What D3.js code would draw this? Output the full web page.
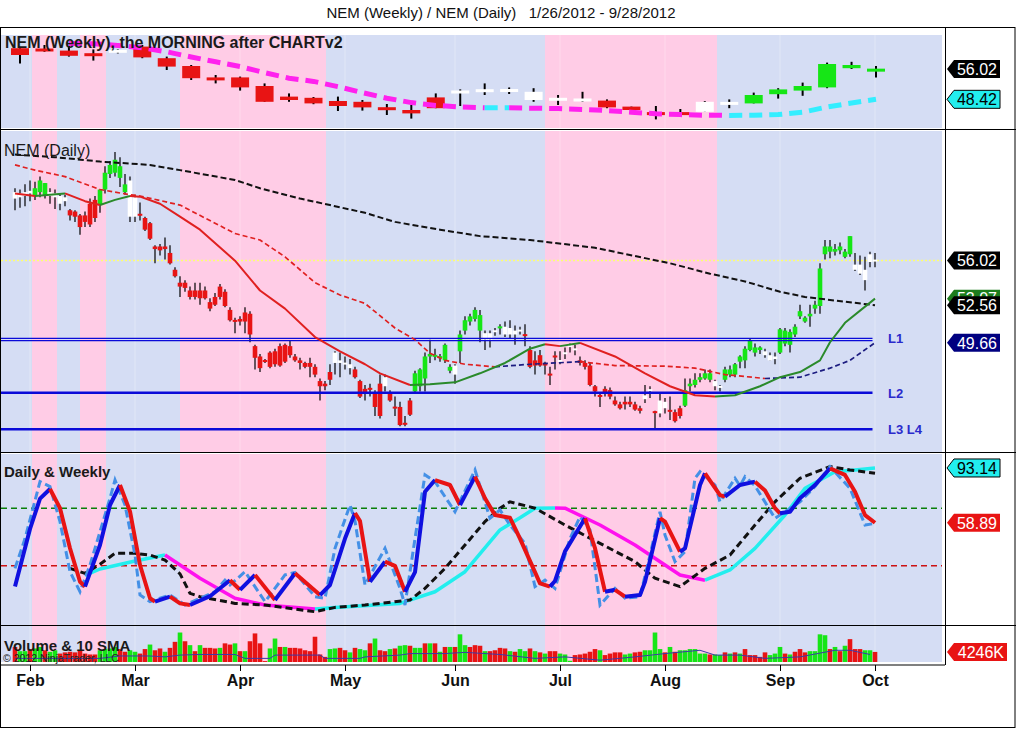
<!DOCTYPE html>
<html>
<head>
<meta charset="utf-8">
<script src="https://cdn.jsdelivr.net/npm/d3@7"></script>
<style>
body { margin: 0; background: #fff; }
svg { display: block; font-family: "Liberation Sans", Arial, sans-serif; }
</style>
</head>
<body>
<div id="chart"></div>
<script>
// ---- daily bars (bar index 0 = 1/26/2012) ----
var dOpen = [60.8,60.9,61.0,61.2,61.0,61.3,61.0,61.0,60.9,60.4,
  60.6,59.9,59.8,59.5,59.5,60.4,60.7,60.3,61.5,62.7,
  62.8,62.4,61.3,62.2,60.9,59.6,59.3,58.9,57.1,57.1,
  57.1,56.6,55.3,54.3,54.3,53.7,53.7,53.7,53.7,52.8,
  53.2,54.0,53.6,52.2,51.4,51.5,52.0,51.9,49.4,48.6,
  48.3,48.9,49.0,49.4,49.5,49.4,48.6,48.3,48.1,48.1,
  47.8,46.7,46.5,47.4,48.1,48.3,48.1,47.7,47.6,46.7,
  46.1,46.1,45.8,46.5,46.3,45.8,44.7,44.7,43.4,45.2,
  45.9,46.3,46.9,48.6,48.6,48.5,48.3,47.5,47.2,49.0,
  50.6,51.3,51.5,50.6,49.9,49.9,50.5,50.8,50.3,50.3,
  50.3,50.6,50.3,49.1,48.3,48.7,48.1,47.2,48.6,48.2,
  48.8,49.4,49.1,48.3,48.1,47.9,46.3,45.6,46.1,46.0,
  45.2,44.9,45.1,45.1,44.9,44.6,45.3,46.0,44.3,44.2,
  44.6,44.4,44.3,44.6,44.8,46.3,46.4,46.8,46.9,46.8,
  46.3,46.2,46.8,47.2,47.2,48.2,48.3,49.1,48.9,49.1,
  48.7,48.3,48.4,48.9,49.6,49.5,50.3,51.7,51.3,51.7,
  52.3,52.5,56.5,56.7,56.7,56.8,56.3,56.5,55.3,55.0,
  54.5,55.9,56.0];
var dHigh = [61.6,61.5,61.9,62.2,62.1,62.5,62.0,61.6,61.5,61.2,
  61.1,60.0,59.9,59.6,59.8,60.8,61.0,61.5,63.3,63.7,
  64.4,64.0,62.7,62.5,61.1,60.5,59.4,59.0,57.2,57.3,
  57.8,57.2,55.5,54.8,54.5,54.0,54.3,54.3,54.0,53.1,
  53.5,54.2,53.8,52.4,51.6,51.7,52.4,52.1,49.5,48.8,
  48.4,49.0,49.2,49.6,49.6,49.8,48.8,48.5,48.2,48.5,
  48.0,46.9,46.7,48.0,49.0,48.9,48.6,48.4,47.8,46.8,
  46.4,46.5,46.0,47.2,47.2,46.0,45.5,45.1,44.0,45.4,
  47.5,47.7,48.9,49.9,49.2,48.8,49.6,48.0,48.0,50.6,
  51.7,51.9,52.4,52.2,50.6,50.6,50.8,51.1,51.3,51.4,
  51.0,50.9,51.1,49.4,49.0,49.1,48.2,47.8,49.0,49.0,
  49.3,49.6,49.5,48.6,48.3,48.1,46.4,45.8,46.3,46.2,
  45.5,45.1,45.5,45.5,45.1,44.8,46.4,46.3,44.4,45.8,
  45.4,45.5,44.5,44.8,46.9,46.9,47.3,47.3,47.6,47.6,
  46.8,46.4,47.8,47.9,48.1,48.7,49.4,50.0,49.6,49.4,
  49.2,48.9,48.9,50.8,50.8,50.7,51.1,52.6,51.7,52.6,
  52.9,55.8,57.6,57.6,57.3,57.4,56.9,57.9,56.6,56.4,
  56.3,56.7,56.6];
var dLow = [59.9,60.1,60.2,60.6,60.7,60.9,60.8,60.4,60.0,59.9,
  60.2,59.1,59.0,58.0,58.6,58.6,59.0,59.7,61.2,62.4,
  62.5,61.7,61.1,59.0,59.0,59.1,58.3,57.6,55.8,56.4,
  56.1,55.7,54.7,53.2,53.6,53.0,53.0,52.6,53.0,52.1,
  52.5,53.0,52.4,51.3,50.4,51.0,50.4,49.7,47.6,47.4,
  48.1,47.7,47.8,47.8,48.1,48.5,48.2,47.6,47.7,47.0,
  47.0,45.2,46.0,46.4,47.2,47.0,47.6,47.2,46.9,45.4,
  45.2,45.5,44.0,43.8,45.9,45.1,44.0,43.2,43.2,44.0,
  45.7,45.9,45.9,48.1,48.3,48.2,48.1,47.3,46.5,48.1,
  50.3,51.0,51.3,49.7,49.1,49.3,50.2,50.3,50.1,50.0,
  49.5,50.3,49.4,47.7,47.2,47.8,47.2,46.4,47.6,48.0,
  48.4,48.9,48.7,47.9,47.6,46.3,45.5,44.7,45.5,45.3,
  44.8,44.5,44.5,44.7,44.4,44.2,45.0,45.4,43.0,43.9,
  44.2,43.7,43.5,43.8,44.7,45.9,46.2,46.6,46.8,46.6,
  46.0,45.9,46.6,47.0,47.0,47.7,47.7,49.0,48.6,48.8,
  48.5,48.3,48.0,48.8,49.4,48.9,50.1,51.5,51.2,50.9,
  51.9,51.9,56.1,56.2,56.4,56.5,56.2,56.3,55.2,54.9,
  53.7,55.5,55.5];
var dClose = [61.3,61.2,61.3,61.4,61.6,62.2,62.0,61.3,61.2,61.0,
  60.9,59.5,59.4,58.6,59.0,58.8,59.3,61.5,62.8,63.4,
  63.8,63.3,61.9,59.4,59.4,59.5,58.4,57.7,56.9,56.8,
  56.9,55.8,54.8,54.0,53.9,53.2,53.2,53.1,53.1,52.3,
  52.6,53.2,52.5,51.4,51.3,51.3,51.3,50.3,48.5,47.7,
  48.2,47.8,48.0,47.9,48.2,48.7,48.3,48.1,47.8,47.8,
  47.2,46.3,46.3,46.8,48.9,48.1,48.0,48.0,47.0,45.5,
  45.8,46.1,44.7,44.0,47.0,45.2,44.6,43.3,43.4,44.1,
  47.3,47.6,48.6,48.8,48.7,48.6,49.5,47.8,47.9,50.3,
  51.4,51.7,52.2,51.8,50.4,50.4,50.6,50.9,50.9,50.8,
  50.6,50.6,50.2,47.8,47.9,47.9,47.9,47.2,48.6,48.3,
  48.9,49.4,49.2,48.1,47.8,46.4,45.9,45.5,45.8,45.5,
  44.9,44.6,44.9,44.9,44.5,44.4,45.6,46.0,44.3,45.2,
  45.1,44.4,43.6,44.0,46.0,46.5,46.8,47.0,47.3,47.3,
  46.7,46.3,47.6,47.6,48.0,48.6,49.2,49.8,49.3,49.3,
  49.0,48.7,48.6,50.7,50.6,50.5,50.9,52.1,51.6,51.9,
  52.6,55.4,57.1,57.1,56.9,57.1,56.7,57.9,55.7,55.7,
  55.3,56.5,56.02];
// bar paint: w = white, g = green, r = red
var dColor = "wwwwgggwww" + "wrrrrrrggg" + "gggwwrrrrr" + "rrrrrrrrrr" +
  "rrrrrrrrrr" + "rrrrrrrrrr" + "rrrrwwwwrr" + "rrrrwrrrrr" +
  "ggggggggwg" + "ggggwwwgww" + "wwrrrrrrrw" + "wwwrrrrrrr" +
  "rrrrrrwwrw" + "wrrrgggggg" + "wwgggggggg" + "wwwggggggg" +
  "ggggggggww" + "www";

// volume in millions
var vol = [5.9,4.5,4.5,5.2,5.4,5.9,4.8,4.3,4.8,3.7,
  4.1,4.3,4.1,4.8,3.7,3.4,3.4,4.8,5.2,5.4,
  5.9,5.2,4.3,4.8,4.3,3.7,5.2,6.7,4.8,5.4,
  4.3,5.6,7.6,10.7,7.8,6.5,4.5,6.5,5.6,5.6,
  5.4,5.6,7.1,6.7,7.1,4.5,4.5,7.8,10.4,7.1,
  1.2,5.4,8.7,5.9,5.9,5.6,5.6,5.4,4.8,4.5,
  9.3,3.4,2.6,5.2,5.4,5.6,4.8,4.1,5.6,5.2,
  4.8,7.1,8.7,4.8,4.5,5.2,5.4,6.3,6.5,6.3,
  5.6,5.6,7.1,7.1,7.1,4.3,5.9,5.9,5.9,10.1,
  6.5,5.9,6.5,6.3,4.5,4.5,4.8,5.6,5.4,4.5,
  4.3,5.2,4.5,5.4,4.5,4.1,3.7,4.5,4.5,3.7,
  3.4,1.3,3.2,3.4,3.7,4.3,5.2,4.8,3.2,3.7,
  4.1,4.1,3.4,3.7,4.1,4.3,4.8,4.8,10.7,5.2,
  4.1,5.9,4.3,4.8,4.8,5.2,5.2,3.7,3.7,3.4,
  3.4,3.2,4.1,3.7,4.1,3.7,5.2,3.2,3.2,2.6,
  4.1,3.2,3.7,5.9,3.7,3.4,4.3,5.2,4.1,4.5,
  4.5,10.1,9.8,5.2,5.9,4.5,6.3,8.5,5.2,5.2,
  4.8,4.8,4.246];
var volColor = "rggrggrggr" + "rrrrrrrggg" + "grrggrrgrr" + "grrgrgrgrr" +
  "rgrrgrgrrr" + "rggrgrrrrr" + "rrrggrrgrg" + "grgrrgrggr" +
  "ggrgrgrgrg" + "grrrgrrrrg" + "rggrgrgrrg" + "ggrrrrrgrr" +
  "rrggrrgggg" + "rgrggggggr" + "ggrgrgrrrr" + "rgggrgrrrg" +
  "gggrgrgrrr" + "ggr";
var volSma = [[0,2.1],[17,2.1],[21,2.9],[27,2.9],[30,2.6],[33,3.2],[37,3.4],[44,3.4],[46,2.1],[51,2.1],
  [52,3.2],[61,3.2],[62,2.1],[69,2.1],[70,2.6],[77,3.2],[79,3.7],[86,3.7],[90,4.1],[97,3.4],
  [104,2.1],[110,2.6],[117,1.5],[124,2.6],[130,3.7],[137,4.8],[140,3.2],[145,3.2],[150,2.1],
  [157,2.6],[164,4.8],[167,4.8],[171,3.4]];

// ---- daily moving averages [bar index, price] ----
var maLong = [[0,64.2],[8,64.0],[17,63.66],[27,63.4],[33,63.0],[44,62.24],[49,61.6],[57,60.8],[63,60.3],
  [70,59.7],[76,59.0],[85,58.4],[93,57.9],[103,57.6],[116,57.0],[126,56.2],[131,55.8],[139,55.0],
  [146,54.4],[153,53.6],[158,53.2],[163,52.97],[172,52.56]];
var maMid = [[0,63.4],[4,63.0],[10,62.5],[17,61.5],[23,61.1],[25,61.0],[33,60.3],[44,58.1],[49,57.6],
  [54,56.3],[60,54.3],[65,53.35],[70,52.7],[76,50.8],[80,49.9],[83,48.85],[86,48.3],[90,48.0],
  [96,47.8],[103,48.0],[108,48.1],[113,48.2],[120,47.9],[130,47.85],[136,47.7],[142,47.2],
  [150,46.9],[157,47.0],[163,47.7],[167,48.3],[172,49.66]];
var maShort = [[0,61.2],[4,61.0],[7,61.1],[10,61.2],[14,60.6],[17,60.3],[20,60.7],[23,61.0],[25,60.95],
  [29,60.4],[33,59.4],[37,58.4],[44,56.0],[49,53.7],[54,52.3],[60,50.1],[65,49.0],[70,48.0],
  [73,47.3],[79,46.4],[83,46.45],[88,46.6],[93,47.3],[98,48.1],[103,49.2],[106,49.55],[109,49.4],
  [113,49.65],[120,48.6],[126,47.3],[131,46.3],[136,45.6],[140,45.5],[144,45.6],[149,46.3],
  [153,47.0],[157,47.4],[161,48.3],[163,49.7],[166,51.2],[172,53.07]];

// support / resistance levels
var levels = [50.0, 49.82, 45.8, 42.97];
var levelLabels = ["L1", "", "L2", "L3 L4"];

// ---- weekly bars ----
var wOpen  = [61.2,60.9,60.6,59.9,60.1,61.6,58.7,56.75,53.8,53.9,51.75,49.1,48.8,48.0,47.8,46.4,45.75,48.9,
  49.9,50.4,50.75,48.25,48.6,48.0,48.1,46.6,44.9,44.9,45.3,47.2,47.4,49.7,50.6,51.4,56.2,55.4];
var wHigh  = [61.5,62.0,61.75,60.9,60.9,62.0,59.1,57.0,54.5,54.1,52.4,49.9,49.0,49.1,48.25,47.25,47.0,49.9,
  50.9,52.4,51.4,51.2,49.5,50.3,48.4,46.6,46.75,46.0,48.0,48.4,50.1,51.2,52.6,57.6,57.8,56.75];
var wLow   = [57.4,60.3,59.1,58.1,59.9,58.7,55.75,53.25,52.4,50.6,47.8,47.8,47.2,45.5,45.6,44.5,43.6,46.2,
  46.75,49.5,49.75,47.8,47.0,47.8,46.2,45.3,43.4,44.1,45.3,46.2,47.4,48.6,49.3,51.2,56.0,53.9];
var wClose = [59.5,60.6,59.3,59.25,60.75,58.9,56.6,53.7,53.25,51.4,47.8,48.25,47.4,46.75,46.4,45.75,44.9,46.2,
  50.6,50.75,50.5,50.3,48.25,48.5,46.4,45.75,44.8,44.8,47.8,47.6,49.5,50.9,51.75,57.25,57.0,56.02];
var wColor = "rrrrwrrrrrrrrrrrrr" + "wwwwwwrrrrwwgggggg";
var wMa = [[2,62.4],[3,62.3],[4,61.9],[5,61.3],[6,60.3],[7,59.0],[8,57.8],[9,56.6],[10,55.1],[11,53.7],
  [12,52.9],[13,51.6],[14,50.1],[15,48.7],[16,47.6],[17,46.9],[18,46.5],[19,46.3],[20,46.3],[21,46.2],
  [22,46.1],[23,45.9],[24,45.6],[25,45.2],[26,44.8],[27,44.6],[28,44.45],[29,44.4],[30,44.45],
  [31,44.6],[32,45.2],[33,46.5],[34,47.5],[35,48.42]];

// ---- oscillator panel [bar index, value] ----
var oscSlow = [[0,19],[3,55],[5,74],[7,80],[9,68],[11,43],[13,22],[14,19],[17,45],[19,70],[21,82.5],
  [23,66],[25,32.5],[27,11.7],[28,9.6],[31,12.7],[33,8.5],[35,7.5],[39,13],[43,23],[45,17],
  [48,26.3],[52,10.6],[56,27.3],[61,13.7],[63,20],[66,49],[68,65],[69,60],[71,22],[74,34.6],
  [76,32],[78,15.8],[80,28],[82,78.3],[84,85.6],[87,82.5],[89,70],[92,87.7],[94,74.2],[96,63.7],
  [99,62],[101,49],[105,21],[107,19],[108,22.5],[110,41],[114,61.7],[116,43],[118,15.8],[120,17],
  [122,12.7],[125,13.7],[126,22],[129,61.7],[130,59.6],[133,40.8],[134,42.9],[137,82.5],[138,89.8],
  [141,76.2],[142,75.2],[145,82.5],[148,84.6],[150,79],[152,68],[153,64.8],[155,65.8],[157,74.2],
  [160,82.5],[163,92.9],[166,88.8],[168,78.3],[170,63.7],[172,58.89]];
var oscFast = [[0,30.4],[2,49],[5,84.6],[7,81.5],[9,59.6],[11,28.3],[13,15.8],[15,32.5],[17,53.3],
  [19,74.2],[20,85.6],[22,70],[24,38.75],[25,13.75],[27,9.6],[29,11.7],[31,13.75],[34,7.5],[37,11.7],
  [40,15.8],[42,23],[43,20],[46,28.3],[50,9.6],[54,26.3],[56,27.9],[60,12.7],[62,11.7],[64,42.9],
  [67,70],[68,60],[70,20],[74,42.9],[77,17.9],[78,7.5],[80,49],[82,88.8],[84,84.6],[88,65.8],
  [92,91.9],[95,61.7],[97,66.9],[99,57.5],[102,46],[104,19],[106,23],[108,17.9],[111,49],[113,62.7],
  [115,54.4],[117,7.5],[120,17.9],[122,11.7],[125,12.7],[127,38.75],[129,65.8],[130,51.25],
  [132,34.6],[134,40.8],[136,86.7],[137,90.8],[140,82.5],[141,72],[144,86.7],[145,82],[146,87.7],
  [148,82],[152,61.7],[154,65.8],[157,72],[160,81.5],[163,94],[167,80.4],[170,57.5],[172,58.5]];
var wkStoch = [[11,30.4],[14,27.3],[17,33],[20,39.8],[24,39.8],[27,38.75],[30,35.6],[33,27],[35,14.8],
  [37,12.7],[44,8.5],[50,7.5],[60,3.3],[64,6],[70,7.5],[79,10.6],[82,17.9],[86,30.4],[90,45],
  [94,59.6],[97,68],[99,72],[104,68],[110,57.5],[117,46],[124,34.6],[128,24.2],[133,19],[138,30.4],
  [143,38.75],[148,57.5],[152,72],[157,86.7],[163,94],[167,91.9],[172,89.8]];
var wkSignal = [[14,26],[17,30],[24,35],[30,38.75],[37,24.2],[44,11.7],[50,7.5],[60,5],[64,6],[77,8.5],
  [84,15.8],[90,28.3],[97,54.4],[101,62],[104,68],[108,68.2],[110,68],[117,57.5],[124,45],[133,26.25],
  [138,23],[143,29.4],[148,42.9],[154,63.75],[158,80.4],[164,90.8],[168,91.9],[172,93.14]];
var oscLevels = [68, 32];

// ---- time axis ----
var monthIdx = [3, 24, 45, 66, 88, 109, 130, 153, 172];
var monthNames = ["Feb", "Mar", "Apr", "May", "Jun", "Jul", "Aug", "Sep", "Oct"];
// weekly shading (pink), in bar index units
var bandStart = [3.4, 13, 33, 106];
var bandEnd = [8.4, 18.2, 62.2, 140.4];

// ================= drawing =================
var W = 1016, H = 729;
var plotL = 1, plotR = 942, axisX = 945;
var FONT = "Liberation Sans, Arial, sans-serif";
var RED = "#e81414", GREEN = "#16e616";
var barFill = { w: "#ffffff", g: GREEN, r: RED };

var panels = {
  week: { top: 35, bottom: 128, atop: 28, abottom: 129 },
  main: { top: 131, bottom: 452, atop: 130, abottom: 452 },
  osc:  { top: 454, bottom: 625, atop: 453, abottom: 625 },
  vol:  { top: 626, bottom: 662, atop: 626, abottom: 665 }
};

var x = d3.scaleLinear().domain([0, 172]).range([15, 875]);
var xw = d3.scaleLinear().domain([0, 35]).range([20, 876]);
var yW = d3.scaleLinear().domain([41.25, 64.5]).range([128, 35]);
var yM = d3.scaleLinear().domain([41.22, 66.1]).range([452, 130]);
var yO = d3.scaleLinear().domain([-5, 101.25]).range([625, 455]);
var yV = d3.scaleLinear().domain([0.9, 13.2]).range([662, 625]);

var svg = d3.select("#chart").append("svg")
    .attr("width", W)
    .attr("height", H)
    .attr("font-family", FONT);

svg.append("rect").attr("width", W).attr("height", H).attr("fill", "#fff");
var defs = svg.append("defs");

// panel backgrounds, shading, faint month grid
Object.keys(panels).forEach(function(k) {
  var p = panels[k];
  svg.append("rect")
      .attr("x", plotL).attr("y", p.top)
      .attr("width", plotR - plotL).attr("height", p.bottom - p.top)
      .attr("fill", "#d5ddf4");
  svg.selectAll(null).data(bandStart).enter().append("rect")
      .attr("x", function(d) { return x(d); })
      .attr("y", p.top)
      .attr("width", function(d, j) { return x(bandEnd[j]) - x(d); })
      .attr("height", p.bottom - p.top)
      .attr("fill", "#ffcce6");
  svg.selectAll(null).data(monthIdx).enter().append("line")
      .attr("x1", function(d) { return x(d); }).attr("x2", function(d) { return x(d); })
      .attr("y1", p.top).attr("y2", p.bottom)
      .attr("stroke", "#fff").attr("stroke-opacity", 0.3);
  defs.append("clipPath").attr("id", "clip-" + k).append("rect")
      .attr("x", plotL).attr("y", p.top).attr("width", plotR - plotL).attr("height", p.bottom - p.top);
  defs.append("clipPath").attr("id", "aclip-" + k).append("rect")
      .attr("x", axisX - 1).attr("y", p.atop).attr("width", W - axisX).attr("height", p.abottom - p.atop);
});

function linePath(xs, ys) {
  return d3.line().x(function(d) { return xs(d[0]); }).y(function(d) { return ys(d[1]); });
}

// split a series into rising / falling runs
function slopeRuns(pts) {
  var runs = [];
  for (var k = 1; k < pts.length; k++) {
    var up = pts[k][1] >= pts[k - 1][1];
    var last = runs[runs.length - 1];
    if (last && last.up === up) last.pts.push(pts[k]);
    else runs.push({ up: up, pts: [pts[k - 1], pts[k]] });
  }
  return runs;
}

function drawRuns(g, pts, xs, ys, upColor, downColor, width, dash) {
  var gen = linePath(xs, ys);
  slopeRuns(pts).forEach(function(r) {
    g.append("path")
        .attr("d", gen(r.pts))
        .attr("fill", "none")
        .attr("stroke", r.up ? upColor : downColor)
        .attr("stroke-width", width)
        .attr("stroke-dasharray", dash || null)
        .attr("stroke-linejoin", "round");
  });
}

// ---------- weekly panel ----------
var gW = svg.append("g").attr("clip-path", "url(#clip-week)");
var wIdx = d3.range(wOpen.length);
gW.selectAll(".wwick").data(wIdx).enter().append("line")
    .attr("class", "wwick")
    .attr("x1", function(i) { return xw(i); }).attr("x2", function(i) { return xw(i); })
    .attr("y1", function(i) { return yW(wHigh[i]); }).attr("y2", function(i) { return yW(wLow[i]); })
    .attr("stroke", "#000").attr("stroke-width", 2);
gW.selectAll(".wbody").data(wIdx).enter().append("rect")
    .attr("class", "wbody")
    .attr("x", function(i) { return xw(i) - 9; })
    .attr("width", 18)
    .attr("y", function(i) {
      var t = yW(Math.max(wOpen[i], wClose[i])), b = yW(Math.min(wOpen[i], wClose[i]));
      return b - t < 3 ? (t + b) / 2 - 1.5 : t;
    })
    .attr("height", function(i) {
      return Math.max(3, Math.abs(yW(wOpen[i]) - yW(wClose[i])));
    })
    .attr("fill", function(i) { return barFill[wColor[i]]; });
drawRuns(gW, wMa, xw, yW, "#33eeff", "#ff22ee", 5, "13,7");

// ---------- main daily panel ----------
var gM = svg.append("g").attr("clip-path", "url(#clip-main)");
var idx = d3.range(dOpen.length);
var lastClose = dClose[dClose.length - 1];

gM.append("line")
    .attr("x1", plotL).attr("x2", plotR)
    .attr("y1", yM(lastClose)).attr("y2", yM(lastClose))
    .attr("stroke", "#ffff70").attr("stroke-width", 1.6).attr("stroke-dasharray", "2,2");

gM.selectAll(".wick").data(idx).enter().append("line")
    .attr("class", "wick")
    .attr("x1", function(i) { return x(i); }).attr("x2", function(i) { return x(i); })
    .attr("y1", function(i) { return yM(dHigh[i]); }).attr("y2", function(i) { return yM(dLow[i]); })
    .attr("stroke", "#000").attr("stroke-width", 1.2);
gM.selectAll(".body").data(idx).enter().append("rect")
    .attr("class", "body")
    .attr("x", function(i) { return x(i) - 2.3; })
    .attr("width", 4.6)
    .attr("y", function(i) {
      var t = yM(Math.max(dOpen[i], dClose[i])), b = yM(Math.min(dOpen[i], dClose[i]));
      return b - t < 2 ? (t + b) / 2 - 1 : t;
    })
    .attr("height", function(i) {
      return Math.max(2, Math.abs(yM(dOpen[i]) - yM(dClose[i])));
    })
    .attr("fill", function(i) { return barFill[dColor[i]]; });

// levels
levels.forEach(function(v, k) {
  gM.append("line")
      .attr("x1", plotL).attr("x2", x(171.5))
      .attr("y1", yM(v)).attr("y2", yM(v))
      .attr("stroke", "#0a0ad8")
      .attr("stroke-width", k < 2 ? 1.3 : 2.5);
  if (levelLabels[k]) {
    svg.append("text")
        .attr("x", 888).attr("y", yM(v) + 5)
        .attr("font-size", 13).attr("font-weight", "bold")
        .attr("fill", "#2a2acc")
        .text(levelLabels[k]);
  }
});

gM.append("path")
    .attr("d", linePath(x, yM)(maLong))
    .attr("fill", "none").attr("stroke", "#111")
    .attr("stroke-width", 2).attr("stroke-dasharray", "6,3");
drawRuns(gM, maMid, x, yM, "#1c1c80", "#e02020", 1.7, "5,3");
drawRuns(gM, maShort, x, yM, "#2a8a2a", "#e02020", 2);

// ---------- oscillator panel ----------
var gO = svg.append("g").attr("clip-path", "url(#clip-osc)");
gO.selectAll(".olev").data(oscLevels).enter().append("line")
    .attr("class", "olev")
    .attr("x1", plotL).attr("x2", plotR)
    .attr("y1", function(d) { return yO(d); }).attr("y2", function(d) { return yO(d); })
    .attr("stroke", function(d, k) { return k === 0 ? "#0a800a" : "#cc1111"; })
    .attr("stroke-width", 1.5).attr("stroke-dasharray", "6,4");
drawRuns(gO, wkSignal, x, yO, "#22eeee", "#ff11ee", 3.5);
gO.append("path")
    .attr("d", linePath(x, yO)(wkStoch))
    .attr("fill", "none").attr("stroke", "#111")
    .attr("stroke-width", 3).attr("stroke-dasharray", "7,4");
gO.append("path")
    .attr("d", linePath(x, yO)(oscFast))
    .attr("fill", "none").attr("stroke", "#4490e6")
    .attr("stroke-width", 3).attr("stroke-dasharray", "8,4");
drawRuns(gO, oscSlow, x, yO, "#1010e0", RED, 4);

// ---------- volume panel ----------
var gV = svg.append("g").attr("clip-path", "url(#clip-vol)");
gV.selectAll(".vbar").data(idx).enter().append("rect")
    .attr("class", "vbar")
    .attr("x", function(i) { return x(i) - 2.3; })
    .attr("width", 4.6)
    .attr("y", function(i) { return yV(vol[i]); })
    .attr("height", function(i) { return yV(yV.domain()[0]) - yV(vol[i]); })
    .attr("fill", function(i) { return volColor[i] === "g" ? GREEN : RED; });
gV.append("path")
    .attr("d", linePath(x, yV)(volSma))
    .attr("fill", "none").attr("stroke", "#3a3aa8").attr("stroke-width", 1);

// ---------- frame & separators ----------
svg.append("rect")
    .attr("x", 0.5).attr("y", 27.5).attr("width", W - 1.5).attr("height", H - 29)
    .attr("fill", "none").attr("stroke", "#000");
[129.5, 452.5, 625.5].forEach(function(yy) {
  svg.append("line").attr("x1", 0).attr("x2", W).attr("y1", yy).attr("y2", yy).attr("stroke", "#000");
});
svg.append("line").attr("x1", 0).attr("x2", axisX).attr("y1", 665).attr("y2", 665).attr("stroke", "#000");
svg.append("line").attr("x1", axisX + 0.5).attr("x2", axisX + 0.5).attr("y1", 27).attr("y2", 665).attr("stroke", "#000");

// ---------- axes ----------
function axisRight(scale, vals, fmt, key) {
  var g = svg.append("g")
      .attr("transform", "translate(" + axisX + ",0)")
      .attr("clip-path", "url(#aclip-" + key + ")")
      .call(d3.axisRight(scale).tickValues(vals).tickSize(5).tickPadding(2).tickFormat(fmt));
  g.select(".domain").remove();
  g.attr("font-size", 16).attr("font-family", FONT);
  g.selectAll("text").attr("fill", "#000");
  g.selectAll("line").attr("stroke", "#000");
}
axisRight(yW, [60], d3.format(".2f"), "week");
axisRight(yM, [45, 55, 60, 65], d3.format(".2f"), "main");
axisRight(yO, [0, 50, 100], d3.format("d"), "osc");
axisRight(yV, [yV.domain()[0]], function() { return "0"; }, "vol");

var gx = svg.append("g")
    .attr("transform", "translate(0,665)")
    .call(d3.axisBottom(x).tickValues(monthIdx).tickSize(6).tickPadding(4)
      .tickFormat(function(d, k) { return monthNames[k]; }));
gx.select(".domain").remove();
gx.attr("font-size", 16).attr("font-family", FONT).attr("font-weight", "bold");
gx.selectAll("text").attr("fill", "#111");
gx.selectAll("line").attr("stroke", "#000");

// ---------- price tags ----------
function tag(v, scale, label, fill, textColor, right, outline) {
  var y = scale(v);
  var l = axisX + 2;
  svg.append("path")
      .attr("d", "M" + l + "," + y + "L" + (l + 7) + "," + (y - 9) + "L" + right + "," + (y - 9) +
        "L" + right + "," + (y + 9) + "L" + (l + 7) + "," + (y + 9) + "Z")
      .attr("fill", fill)
      .attr("stroke", outline ? "#000" : "none").attr("stroke-width", 1);
  svg.append("text")
      .attr("x", right - 3).attr("y", y).attr("dy", "0.36em")
      .attr("text-anchor", "end").attr("font-size", 16)
      .attr("fill", textColor)
      .text(label);
}
var f2 = d3.format(".2f");
tag(wClose[wClose.length - 1], yW, f2(wClose[wClose.length - 1]), "#000", "#fff", 1000);
tag(wMa[wMa.length - 1][1], yW, f2(wMa[wMa.length - 1][1]), "#22eeee", "#000", 1000, true);
tag(lastClose, yM, f2(lastClose), "#000", "#fff", 1000);
tag(maShort[maShort.length - 1][1], yM, f2(maShort[maShort.length - 1][1]), "#1d7d1d", "#fff", 1000);
tag(maLong[maLong.length - 1][1], yM, f2(maLong[maLong.length - 1][1]), "#000", "#fff", 1000);
tag(maMid[maMid.length - 1][1], yM, f2(maMid[maMid.length - 1][1]), "#000080", "#fff", 1000);
tag(wkSignal[wkSignal.length - 1][1], yO, f2(wkSignal[wkSignal.length - 1][1]), "#22eeee", "#000", 1000, true);
tag(oscSlow[oscSlow.length - 1][1], yO, f2(oscSlow[oscSlow.length - 1][1]), RED, "#fff", 1000);
tag(vol[vol.length - 1], yV, Math.round(vol[vol.length - 1] * 1000) + "K", RED, "#fff", 1007);

// ---------- titles ----------
svg.append("text")
    .attr("x", 501).attr("y", 18).attr("text-anchor", "middle")
    .attr("font-size", 15).attr("fill", "#111")
    .text("NEM (Weekly) / NEM (Daily)\u00a0\u00a0 1/26/2012 - 9/28/2012");
svg.append("text")
    .attr("x", 5).attr("y", 48).attr("font-size", 16).attr("font-weight", "bold").attr("fill", "#1a1a1a")
    .text("NEM (Weekly), the MORNING after CHARTv2");
svg.append("text")
    .attr("x", 4).attr("y", 156).attr("font-size", 16).attr("fill", "#1a1a1a")
    .text("NEM (Daily)");
svg.append("text")
    .attr("x", 4).attr("y", 477).attr("font-size", 15).attr("font-weight", "bold").attr("fill", "#1a1a1a")
    .text("Daily & Weekly");
svg.append("text")
    .attr("x", 4).attr("y", 651).attr("font-size", 15).attr("font-weight", "bold").attr("fill", "#1a1a1a")
    .text("Volume & 10 SMA");
svg.append("text")
    .attr("x", 3).attr("y", 662).attr("font-size", 10.5).attr("fill", "#222")
    .text("\u00a9 2012 NinjaTrader, LLC");
</script>
</body>
</html>
